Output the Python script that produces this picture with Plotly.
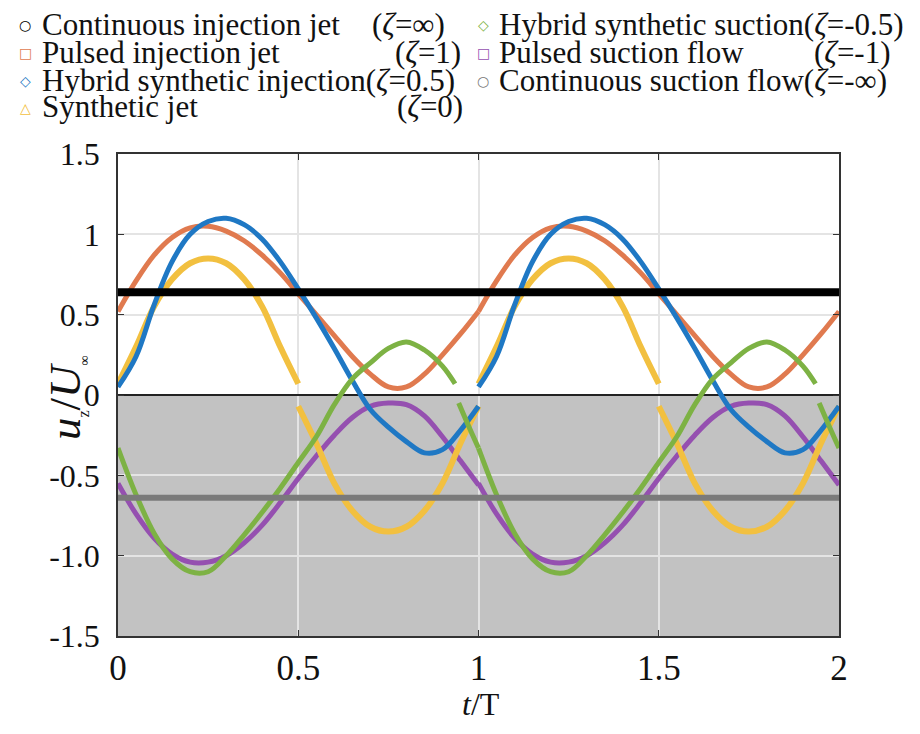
import plotly.graph_objects as go

# ---- data: jet exit velocity over one cycle (repeated for two cycles) ----
PHASE = [0.00, 0.05, 0.10, 0.15, 0.20, 0.25, 0.30, 0.35, 0.40, 0.45, 0.50,
         0.55, 0.60, 0.65, 0.70, 0.75, 0.80, 0.85, 0.90, 0.95, 1.00]
N_PERIODS = 2

CONT_INJECTION = 0.64     # zeta = +inf
CONT_SUCTION = -0.64      # zeta = -inf

PULSED_INJECTION = [0.52, 0.71, 0.87, 0.98, 1.04, 1.05, 1.02, 0.96, 0.87, 0.76, 0.63,
                    0.50, 0.37, 0.24, 0.13, 0.05, 0.05, 0.13, 0.25, 0.38, 0.52]
HYBRID_INJECTION = [0.05, 0.24, 0.56, 0.83, 1.00, 1.08, 1.10, 1.06, 0.97, 0.83, 0.66,
                    0.48, 0.29, 0.09, -0.09, -0.20, -0.29, -0.36, -0.34, -0.22, -0.07]
PULSED_SUCTION = [-0.55, -0.74, -0.89, -0.99, -1.04, -1.04, -1.00, -0.92, -0.81, -0.67, -0.52,
                  -0.38, -0.25, -0.14, -0.07, -0.05, -0.06, -0.13, -0.26, -0.41, -0.56]

SYNTH_BLOW_PHASE = PHASE[:11]
SYNTH_BLOW = [0.07, 0.30, 0.55, 0.72, 0.82, 0.85, 0.82, 0.72, 0.55, 0.30, 0.07]
SYNTH_SUCK_PHASE = PHASE[10:]
SYNTH_SUCK = [-0.07, -0.30, -0.55, -0.72, -0.82, -0.85, -0.82, -0.72, -0.55, -0.30, -0.07]

HYB_SUC_PHASE_A = [0.00, 0.05, 0.10, 0.15, 0.20, 0.25, 0.30, 0.35, 0.40, 0.45, 0.50,
                   0.55, 0.60, 0.65, 0.70, 0.75, 0.80, 0.85, 0.90, 0.935]
HYB_SUC_A = [-0.33, -0.62, -0.86, -1.02, -1.10, -1.10, -1.00, -0.87, -0.73, -0.58, -0.42,
             -0.26, -0.06, 0.10, 0.20, 0.29, 0.33, 0.28, 0.18, 0.07]
HYB_SUC_PHASE_B = [0.945, 0.97, 1.00]
HYB_SUC_B = [-0.05, -0.18, -0.33]

Y_TICKS = [-1.5, -1.0, -0.5, 0, 0.5, 1.0, 1.5]
Y_TICK_TEXT = ["-1.5", "-1.0", "-0.5", "0", "0.5", "1", "1.5"]
X_TICKS = [0, 0.5, 1, 1.5, 2]
X_TICK_TEXT = ["0", "0.5", "1", "1.5", "2"]

LEGEND_LEFT = ["Continuous injection jet", "Pulsed injection jet",
               "Hybrid synthetic injection", "Synthetic jet"]
ZETA_LEFT = ["(<i>ζ</i>=∞)", "(<i>ζ</i>=1)", "(<i>ζ</i>=0.5)", "(<i>ζ</i>=0)"]
LEGEND_RIGHT = ["Hybrid synthetic suction", "Pulsed suction flow", "Continuous suction flow"]
ZETA_RIGHT = ["(<i>ζ</i>=-0.5)", "(<i>ζ</i>=-1)", "(<i>ζ</i>=-∞)"]

# ---- styling ----
FONT = "Liberation Serif"
C_BLACK = "#000000"
C_GRAY = "#7a7a7a"
C_ORANGE = "#E07A4F"
C_BLUE = "#1F78C4"
C_YELLOW = "#F2C040"
C_GREEN = "#7DB244"
C_PURPLE = "#9550B0"

W, H = 920, 734
PL, PR, PT, PB = 118, 839, 154, 636   # plot area in pixels


def px_x(x):
    return (x - PL) / (PR - PL)


def px_y(y):
    return (PB - y) / (PB - PT)


def periodic(segments):
    """Repeat each (phase, value) segment over N_PERIODS, separated by gaps."""
    xs, ys = [], []
    for k in range(N_PERIODS):
        for ph, val in segments:
            xs += [p + k for p in ph] + [None]
            ys += list(val) + [None]
    return xs, ys


fig = go.Figure()


def add_curve(segments, color, width):
    x, y = periodic(segments)
    fig.add_trace(go.Scatter(x=x, y=y, mode="lines", showlegend=False,
                             line=dict(color=color, width=width, shape="spline", smoothing=1.0),
                             connectgaps=False, hoverinfo="skip"))


add_curve([(PHASE, PULSED_INJECTION)], C_ORANGE, 5)
add_curve([(PHASE, PULSED_SUCTION)], C_PURPLE, 5)
add_curve([(SYNTH_BLOW_PHASE, SYNTH_BLOW), (SYNTH_SUCK_PHASE, SYNTH_SUCK)], C_YELLOW, 6)
add_curve([(PHASE, HYBRID_INJECTION)], C_BLUE, 5)
add_curve([(HYB_SUC_PHASE_A, HYB_SUC_A), (HYB_SUC_PHASE_B, HYB_SUC_B)], C_GREEN, 5)

fig.add_trace(go.Scatter(x=[0, N_PERIODS], y=[CONT_INJECTION] * 2, mode="lines",
                         line=dict(color=C_BLACK, width=8), showlegend=False, hoverinfo="skip"))
fig.add_trace(go.Scatter(x=[0, N_PERIODS], y=[CONT_SUCTION] * 2, mode="lines",
                         line=dict(color=C_GRAY, width=6), showlegend=False, hoverinfo="skip"))

# shaded suction half of the plot
fig.add_shape(type="rect", xref="x", yref="y", x0=0, x1=N_PERIODS, y0=Y_TICKS[0], y1=0,
              fillcolor="#c2c2c2", line=dict(width=0), layer="below")

annotations = []

# legend keys, two columns
SYMBOLS_LEFT = [("○", C_BLACK), ("□", C_ORANGE), ("◇", C_BLUE), ("△", C_YELLOW)]
SYMBOLS_RIGHT = [("◇", C_GREEN), ("□", C_PURPLE), ("○", C_GRAY)]
ROW_Y = [24, 52, 80, 107]
# None: the zeta label follows the name directly
ZETA_X_LEFT = [370, 393, None, 395]
ZETA_X_RIGHT = [None, 812, None]

for cols in [(LEGEND_LEFT, ZETA_LEFT, SYMBOLS_LEFT, 25, 40, ZETA_X_LEFT),
             (LEGEND_RIGHT, ZETA_RIGHT, SYMBOLS_RIGHT, 483, 497, ZETA_X_RIGHT)]:
    names, zetas, syms, sx, tx, zx = cols
    for i, name in enumerate(names):
        sym, col = syms[i]
        annotations.append(dict(x=px_x(sx), y=px_y(ROW_Y[i] + 1), xref="paper", yref="paper",
                                text=sym, showarrow=False, xanchor="center", yanchor="middle",
                                font=dict(family="DejaVu Sans", size=14, color=col)))
        label = name if zx[i] is not None else name + zetas[i]
        annotations.append(dict(x=px_x(tx), y=px_y(ROW_Y[i]), xref="paper", yref="paper",
                                text=label, showarrow=False, xanchor="left", yanchor="middle",
                                font=dict(family=FONT, size=31, color="#111")))
        if zx[i] is not None:
            annotations.append(dict(x=px_x(zx[i]), y=px_y(ROW_Y[i]), xref="paper", yref="paper",
                                    text=zetas[i], showarrow=False, xanchor="left",
                                    yanchor="middle",
                                    font=dict(family=FONT, size=31, color="#111")))

# axis titles
annotations.append(dict(x=px_x(481), y=px_y(704), xref="paper", yref="paper",
                        text="<i>t</i>/T", showarrow=False, xanchor="center", yanchor="middle",
                        font=dict(family=FONT, size=32, color="#111")))
annotations.append(dict(x=px_x(66), y=px_y(398), xref="paper", yref="paper",
                        text="<i>u</i><sub><span style='font-size:16px'>z</span></sub>/<i>U</i>"
                             "<sub><span style='font-size:14px'>∞</span></sub>",
                        showarrow=False, textangle=-90, xanchor="center", yanchor="middle",
                        font=dict(family=FONT, size=45, color="#111")))

axis_common = dict(showline=True, linecolor="#333", linewidth=1.5, mirror="ticks",
                   ticks="inside", ticklen=6, tickcolor="#333", tickwidth=1.2,
                   showgrid=True, gridcolor="#e4e4e4", gridwidth=2)

fig.update_layout(
    width=W, height=H,
    margin=dict(l=PL, r=W - PR, t=PT, b=H - PB, pad=0),
    paper_bgcolor="white", plot_bgcolor="white",
    showlegend=False,
    xaxis=dict(range=[0, N_PERIODS], tickvals=X_TICKS, ticktext=X_TICK_TEXT,
               zeroline=False, tickfont=dict(family=FONT, size=35, color="#111"),
               ticklabelstandoff=0, **axis_common),
    yaxis=dict(range=[Y_TICKS[0], Y_TICKS[-1]], tickvals=Y_TICKS, ticktext=Y_TICK_TEXT,
               zeroline=True, zerolinecolor="#222", zerolinewidth=2,
               tickfont=dict(family=FONT, size=32, color="#111"),
               ticklabelstandoff=10, **axis_common),
    annotations=annotations,
)

fig.write_html("out.html")
